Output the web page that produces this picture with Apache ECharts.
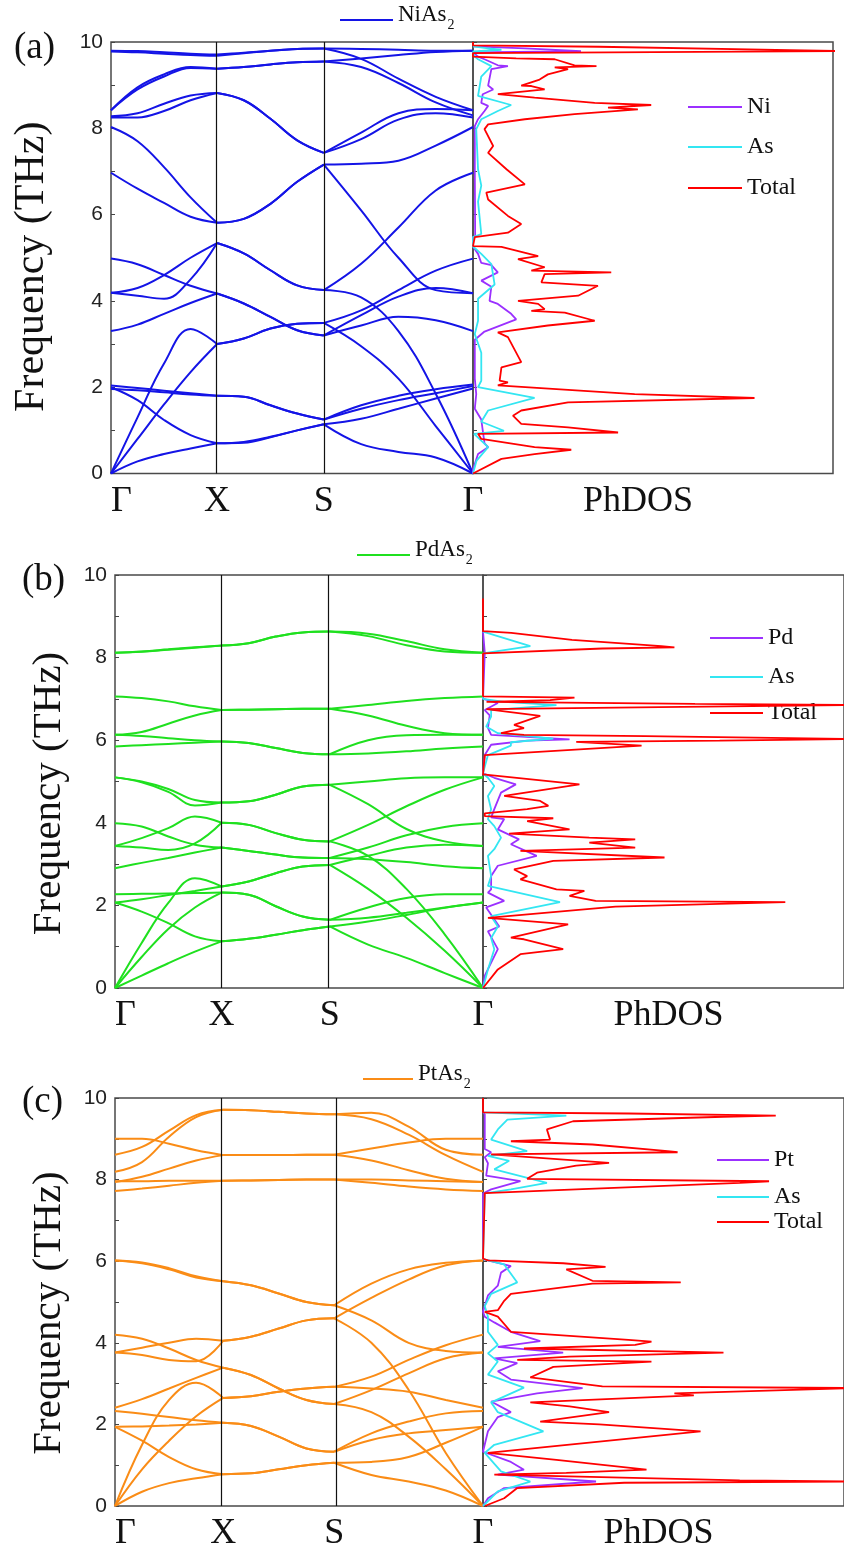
<!DOCTYPE html>
<html><head><meta charset="utf-8">
<script src="https://cdn.jsdelivr.net/npm/echarts@6/dist/echarts.min.js"></script>
<style>html,body{margin:0;padding:0;background:#fff}#c{width:844px;height:1557px}</style>
</head><body><div id="c"></div><script>
// ---------- DATA ----------
const kLabels = ['Γ', 'X', 'S', 'Γ'];

// k-path positions (Γ-X, X-S, S-Γ, quarter samples)
const kNi = [0, 0.0733, 0.1465, 0.2198, 0.293, 0.3668, 0.4405, 0.5143, 0.588, 0.691, 0.794, 0.897, 1];
const kPd = [0, 0.0724, 0.1448, 0.2172, 0.2896, 0.3631, 0.4367, 0.5102, 0.5837, 0.6878, 0.7919, 0.8959, 1];
const kPt = [0, 0.0735, 0.147, 0.2205, 0.294, 0.3694, 0.4448, 0.5201, 0.5955, 0.6966, 0.7978, 0.8989, 1];

// phonon branches (THz) at the k samples above
const bandsNi = [
  [0,0.28,0.45,0.58,0.7, 0.73,0.85,1.0,1.14, 0.68,0.5,0.37,0],
  [2.0,1.7,1.24,0.89,0.7, 0.71,0.84,1.0,1.14, 1.27,1.5,1.74,1.97],
  [2.04,1.98,1.92,1.86,1.8, 1.78,1.58,1.39,1.25, 1.5,1.7,1.86,2.03],
  [1.96,1.93,1.88,1.83,1.8, 1.78,1.58,1.39,1.25, 1.58,1.8,1.95,2.06],
  [0,0.8,1.6,2.35,3.0, 3.13,3.36,3.47,3.49, 2.95,2.2,1.1,0],
  [0,1.3,2.55,3.35,3.0, 3.13,3.36,3.47,3.49, 3.78,4.25,4.7,4.98],
  [3.3,3.45,3.7,3.95,4.17, 3.94,3.63,3.32,3.2, 3.43,3.63,3.55,3.3],
  [4.98,4.85,4.6,4.35,4.17, 3.94,3.63,3.32,3.2, 3.67,4.1,4.3,4.18],
  [4.19,4.12,4.05,4.5,5.34, 5.1,4.71,4.36,4.25, 4.86,5.7,6.56,6.97],
  [4.19,4.3,4.6,5.0,5.34, 5.1,4.71,4.36,4.25, 4.08,3.3,1.85,0],
  [6.97,6.6,6.27,5.95,5.81, 5.9,6.25,6.76,7.16, 6.1,5.0,4.25,4.18],
  [8.03,7.7,7.1,6.4,5.81, 5.9,6.25,6.76,7.16, 7.18,7.25,7.6,8.03],
  [8.28,8.35,8.57,8.76,8.82, 8.65,8.22,7.72,7.43, 7.9,8.35,8.45,8.42],
  [8.25,8.25,8.4,8.65,8.82, 8.65,8.22,7.72,7.43, 7.75,8.2,8.35,8.25],
  [8.42,8.95,9.25,9.42,9.38, 9.42,9.48,9.53,9.55, 9.42,9.05,8.6,8.3],
  [8.42,8.9,9.2,9.4,9.38, 9.42,9.48,9.53,9.55, 9.62,9.7,9.77,9.8],
  [9.8,9.79,9.76,9.73,9.71, 9.75,9.8,9.84,9.85, 9.61,9.15,8.73,8.42],
  [9.78,9.76,9.73,9.7,9.68, 9.74,9.8,9.84,9.85, 9.84,9.82,9.8,9.8]
];
const bandsPd = [
  [0,0.3,0.6,0.88,1.13, 1.19,1.29,1.4,1.49, 1.05,0.73,0.36,0],
  [2.07,1.85,1.57,1.25,1.13, 1.19,1.29,1.4,1.49, 1.61,1.77,1.94,2.07],
  [2.27,2.28,2.29,2.3,2.31, 2.26,1.98,1.73,1.65, 1.95,2.18,2.27,2.27],
  [0,0.75,1.43,1.95,2.31, 2.26,1.98,1.73,1.65, 1.7,1.82,1.95,2.07],
  [0,1.09,2.06,2.66,2.46, 2.58,2.78,2.94,2.98, 2.4,1.7,0.9,0],
  [2.07,2.15,2.25,2.35,2.46, 2.58,2.78,2.94,2.98, 3.2,3.4,3.47,3.44],
  [2.9,3.03,3.15,3.28,3.4, 3.32,3.23,3.16,3.15, 3.12,3.05,2.95,2.9],
  [3.99,3.91,3.67,3.47,3.4, 3.32,3.23,3.16,3.15, 3.4,3.7,3.9,3.99],
  [3.44,3.4,3.34,3.5,4.0, 3.95,3.75,3.59,3.55, 3.95,4.4,4.8,5.1],
  [3.44,3.63,3.87,4.15,4.0, 3.95,3.75,3.59,3.55, 3.2,2.4,1.3,0],
  [5.1,5.0,4.82,4.55,4.49, 4.52,4.68,4.88,4.92, 5.0,5.08,5.1,5.1],
  [5.1,4.98,4.75,4.42,4.49, 4.52,4.68,4.88,4.92, 4.45,3.85,3.55,3.44],
  [5.85,5.88,5.91,5.94,5.97, 5.93,5.81,5.69,5.66, 5.68,5.73,5.8,5.85],
  [6.13,6.1,6.05,6.0,5.97, 5.93,5.81,5.69,5.66, 6.0,6.12,6.13,6.13],
  [6.13,6.2,6.4,6.6,6.73, 6.74,6.75,6.76,6.76, 6.6,6.35,6.17,6.13],
  [7.06,7.02,6.94,6.82,6.73, 6.74,6.75,6.76,6.76, 6.85,6.95,7.02,7.06],
  [8.12,8.15,8.2,8.25,8.29, 8.35,8.51,8.61,8.63, 8.52,8.3,8.15,8.12],
  [8.12,8.14,8.19,8.24,8.29, 8.35,8.51,8.61,8.63, 8.58,8.4,8.2,8.12]
];
const bandsPt = [
  [0,0.35,0.56,0.68,0.78, 0.8,0.9,1.0,1.06, 0.76,0.6,0.38,0],
  [1.94,1.6,1.2,0.9,0.78, 0.8,0.9,1.0,1.06, 1.08,1.2,1.55,1.94],
  [1.94,1.95,1.97,2.0,2.04, 1.96,1.7,1.41,1.33, 1.62,1.78,1.86,1.94],
  [2.33,2.26,2.18,2.1,2.04, 1.96,1.7,1.41,1.33, 1.78,2.07,2.27,2.33],
  [0,1.5,2.6,3.02,2.65, 2.69,2.8,2.88,2.92, 3.17,3.58,3.94,4.2],
  [0,0.9,1.6,2.2,2.65, 2.69,2.8,2.88,2.92, 2.88,2.8,2.6,2.41],
  [4.2,4.1,3.86,3.58,3.39, 3.21,2.88,2.6,2.5, 2.3,1.7,0.9,0],
  [2.41,2.62,2.88,3.14,3.39, 3.21,2.88,2.6,2.5, 2.84,3.25,3.62,3.76],
  [3.76,3.7,3.58,3.55,4.05, 4.15,4.35,4.55,4.6, 4.0,2.85,1.3,0],
  [3.76,3.88,4.0,4.1,4.05, 4.15,4.35,4.55,4.6, 5.1,5.55,5.9,6.02],
  [6.02,5.95,5.8,5.6,5.51, 5.41,5.21,5.0,4.92, 5.45,5.8,5.96,6.02],
  [6.02,5.97,5.83,5.63,5.51, 5.41,5.21,5.0,4.92, 4.55,4.0,3.8,3.76],
  [7.72,7.78,7.85,7.92,7.97, 7.98,7.99,8.0,8.0, 7.92,7.83,7.76,7.72],
  [7.96,7.96,7.97,7.97,7.97, 7.98,7.99,8.0,8.0, 8.0,7.98,7.96,7.94],
  [7.94,8.07,8.27,8.47,8.6, 8.6,8.6,8.61,8.61, 8.47,8.23,8.02,7.94],
  [9.0,9.0,8.88,8.72,8.6, 8.6,8.6,8.61,8.61, 8.76,8.91,9.0,9.0],
  [8.19,8.43,9.05,9.53,9.71, 9.7,9.66,9.62,9.6, 9.64,9.3,8.73,8.61],
  [8.61,8.8,9.2,9.58,9.71, 9.7,9.66,9.62,9.6, 9.48,9.1,8.6,8.19]
];

// phonon DOS: [frequency (THz), DOS (arb. units)]
const niDosTotal = [[10,0],[9.92,0],[9.89,35],[9.81,88],[9.79,102],[9.76,102],[9.74,0],[9.66,0],[9.62,12],[9.6,22.7],[9.46,28.2],[9.44,34.3],[9.41,22.7],[9.37,26.4],[9.25,20.8],[9.13,18.5],[8.99,13.4],[8.98,16.2],[8.9,19.9],[8.79,6.9],[8.75,6.5],[8.71,17.1],[8.59,33.8],[8.54,49.5],[8.48,37.5],[8.44,45.8],[8.33,28.2],[8.21,14.4],[8.09,4.2],[7.98,3.2],[7.59,5.6],[7.43,4.2],[7.05,9.3],[6.7,14.4],[6.51,3.7],[6.35,4.2],[5.97,9.7],[5.78,13.4],[5.58,9.7],[5.48,0.5],[5.46,0],[5.27,0],[5.25,7.9],[5.04,18.1],[4.97,12.5],[4.78,19.9],[4.7,16.2],[4.66,38.4],[4.62,19.9],[4.43,19.0],[4.35,34.7],[4.12,29.2],[4.0,12.5],[3.93,18.1],[3.81,19.9],[3.77,16.2],[3.73,25.5],[3.54,33.8],[3.43,20.8],[3.27,6.9],[3.16,9.7],[2.58,13.4],[2.46,7.9],[2.15,7.4],[2.11,9.7],[2.04,6.9],[1.84,44.9],[1.75,78.2],[1.65,26.4],[1.46,13.4],[1.34,11.1],[1.15,13.4],[1.07,26.4],[0.95,40.3],[0.92,1.4],[0.8,2.3],[0.61,17.1],[0.55,27.3],[0.45,17.1],[0.34,7.9],[0,0]];
const niDosNi = [[9.9,0],[9.85,14.4],[9.79,30],[9.76,0],[9.66,1.4],[9.6,3.2],[9.46,6.9],[9.44,9.7],[9.37,5.1],[8.99,4.2],[8.9,5.6],[8.79,2.7],[8.59,2.3],[8.52,4.2],[8.4,3.2],[8.21,1.4],[8.05,0.5],[7.0,0.5],[5.5,0.6],[5.48,0],[5.26,0],[5.09,1.4],[4.88,2.3],[4.83,5.1],[4.66,6.9],[4.47,2.3],[4.33,5.1],[4.0,4.6],[3.93,6.9],[3.7,10.6],[3.57,12.0],[3.29,3.2],[3.1,0.5],[2.2,0.5],[1.84,0.9],[1.5,0.5],[1.25,2.3],[0.7,3.2],[0.61,4.2],[0.45,1.4],[0.1,0],[0,0]];
const niDosAs = [[9.9,0],[9.86,3.7],[9.82,7.9],[9.78,0],[9.66,0.5],[9.6,1.4],[9.44,5.1],[9.2,2.3],[8.75,1.4],[8.54,10.6],[8.4,6.9],[8.21,2.3],[7.98,0.9],[7.05,1.4],[6.67,2.3],[6.3,1.4],[5.55,2.3],[5.48,0],[5.26,0],[5.09,2.3],[4.85,5.1],[4.38,6.0],[4.05,1.4],[3.54,1.4],[3.23,0.5],[2.8,2.3],[2.15,2.3],[2.0,1.4],[1.75,17.1],[1.46,4.2],[1.2,2.3],[0.99,8.6],[0.92,0.3],[0.61,4.2],[0.3,1.0],[0,0]];

const pdDosTotal = [[9.43,0],[8.64,0],[8.6,8],[8.43,25.2],[8.28,50.5],[8.25,54.2],[8.22,33.8],[8.1,0],[7.06,0],[7.03,25.9],[6.97,19.0],[6.93,1],[6.88,60],[6.85,105],[6.8,50],[6.75,1],[6.73,1.4],[6.59,16.2],[6.37,8.8],[6.29,11.6],[6.17,5.1],[6.13,11.6],[6.1,46],[6.03,105],[5.99,67],[5.96,26.4],[5.87,44.9],[5.64,0.5],[5.62,0],[5.17,0],[5.13,0.5],[4.93,27.3],[4.65,6.0],[4.53,16.2],[4.41,18.5],[4.33,12.5],[4.23,0.5],[4.16,0.5],[4.11,19.9],[4.04,12.5],[3.84,24.5],[3.74,7.4],[3.64,30.1],[3.6,43.1],[3.52,30.1],[3.4,43.1],[3.32,10.6],[3.16,51.4],[3.08,19.9],[2.87,8.8],[2.71,12.5],[2.63,10.6],[2.39,20.8],[2.35,28.7],[2.23,24.5],[2.11,31.9],[2.08,85.6],[1.97,37.5],[1.7,1.4],[1.54,24.1],[1.22,7.9],[1.18,11.6],[0.94,22.7],[0.82,10.6],[0.45,4.2],[0,0]];
const pdDosPd = [[8.63,0],[8.6,0.5],[8.12,0.5],[8.1,0],[7.0,0],[6.97,1.4],[6.9,4.2],[6.73,0.5],[6.6,1.9],[6.3,1.4],[6.13,2.3],[6.02,24.5],[5.99,12.5],[5.89,2.3],[5.64,0.5],[5.2,0],[5.09,3.2],[4.93,9.3],[4.73,5.1],[4.33,3.2],[4.13,2.3],[4.09,6.0],[3.84,4.2],[3.6,10.2],[3.48,7.9],[3.2,15.2],[2.96,4.2],[2.71,2.3],[2.39,2.3],[2.31,1.4],[2.11,6.0],[1.95,0.9],[1.49,4.6],[1.37,1.4],[0.94,4.2],[0.3,0.5],[0,0]];
const pdDosAs = [[8.63,0],[8.28,13.4],[8.1,0],[7.0,0],[6.93,6.0],[6.85,20.8],[6.73,2.3],[6.57,2.3],[6.33,0.9],[6.17,4.2],[6.04,19.9],[5.95,7.9],[5.87,7.9],[5.64,1.4],[5.2,0],[5.09,1.4],[4.89,3.2],[4.65,1.4],[4.33,2.3],[4.09,1.4],[3.92,3.2],[3.64,5.1],[3.36,3.2],[3.2,1.4],[2.71,2.3],[2.47,1.4],[2.08,21.8],[1.74,2.3],[1.49,4.2],[1.21,2.3],[0.94,3.2],[0.45,1.4],[0,0]];

const ptDosTotal = [[10,0],[9.65,0],[9.62,41.2],[9.57,82.9],[9.54,68.1],[9.43,25.5],[9.23,18.1],[8.98,19.0],[8.94,7.9],[8.86,31],[8.7,52.3],[8.67,55.1],[8.62,2.3],[8.58,2.3],[8.41,35.7],[8.34,26.4],[8.17,15.3],[8.02,12.5],[7.96,81],[7.92,72.7],[7.76,26.4],[7.67,0.5],[7.66,0],[6.06,0],[6.02,1.4],[5.95,22.7],[5.86,34.7],[5.8,23.6],[5.52,31],[5.48,56],[5.45,31],[5.2,7.9],[5.03,6.0],[4.8,4.2],[4.76,0.5],[4.64,4.2],[4.27,7.9],[4.07,41.2],[4.03,47.7],[3.95,43.1],[3.86,11.6],[3.76,68.1],[3.66,24.5],[3.58,9.7],[3.54,47.7],[3.41,19.9],[3.15,13.4],[2.93,33.8],[2.89,105],[2.76,54.2],[2.71,59.7],[2.54,13.4],[2.44,24.5],[2.3,35.7],[2.07,16.2],[2.0,32.9],[1.83,61.6],[1.3,1.4],[1.13,20.8],[0.89,46.3],[0.81,23.6],[0.77,3.2],[0.63,72.7],[0.6,105],[0.57,40],[0.44,9.7],[0.19,6.0],[0,0.5]];
const ptDosPt = [[9.65,0],[9.6,0.5],[8.75,0.5],[8.67,2.3],[8.55,0.5],[8.4,1.4],[8.1,0.9],[7.96,10.6],[7.76,2.3],[7.66,0],[6.05,0],[5.88,7.9],[5.72,5.1],[5.4,4.2],[5.16,1.4],[4.76,0],[4.64,0.5],[4.5,3.2],[4.27,7.9],[4.04,16.2],[3.9,4.2],[3.76,22.7],[3.62,3.2],[3.5,9.7],[3.3,4.2],[3.1,7.9],[2.89,28.2],[2.76,15.3],[2.56,2.3],[2.3,7.9],[2.18,4.2],[1.83,1.4],[1.33,0],[1.08,7.9],[0.89,11.6],[0.77,4.2],[0.6,32],[0.44,6.0],[0.19,1.4],[0,0]];
const ptDosAs = [[9.65,0],[9.57,23.6],[9.47,6.9],[9.23,4.2],[8.98,2.3],[8.7,12.5],[8.58,1.4],[8.46,7.4],[8.25,3.2],[7.92,18.1],[7.76,7.9],[7.66,0.5],[6.05,0],[5.92,6.0],[5.48,9.7],[5.2,2.3],[4.9,0.5],[4.64,1.4],[4.27,1.4],[3.95,4.2],[3.74,1.4],[3.54,4.2],[3.22,1.4],[2.9,11.6],[2.54,2.3],[2.3,4.2],[1.83,17.1],[1.5,3.2],[1.3,0.5],[0.85,5.1],[0.6,13.4],[0.36,4.2],[0,0]];

// ---------- LAYOUT / STYLE ----------
const SERIF = 'Liberation Serif, Times New Roman, serif';
const SANS = 'Liberation Sans, Arial, sans-serif';
const C_METAL = '#9b30ff', C_AS = '#33e6f2', C_TOT = '#ff0000';

const panels = [
  { tag:'(a)', tagX:14, tagY:30, compound:['NiAs','2'], metal:'Ni', color:'#1414e6', k:kNi, bands:bandsNi,
    dos:[niDosNi, niDosAs, niDosTotal],
    band:{left:111, top:42, width:362, height:431.5}, dosG:{left:473, top:42, width:360, height:431.5},
    yNameSize:42, yNameGap:58, yNamePad:[0,18,0,0], phPad:[0,30,0,0],
    legBand:{x:340, y:18, w:53}, legDos:{x:688, w:54, ys:[107,147,188]} },
  { tag:'(b)', tagX:22, tagY:562, compound:['PdAs','2'], metal:'Pd', color:'#1fe01f', k:kPd, bands:bandsPd,
    dos:[pdDosPd, pdDosAs, pdDosTotal],
    band:{left:115, top:575, width:368, height:413}, dosG:{left:483, top:575, width:368, height:413},
    yNameSize:41, yNameGap:45, yNamePad:[0,24,0,0], phPad:[0,0,0,10],
    legBand:{x:357, y:553, w:53}, legDos:{x:710, w:53, ys:[638,677,713]} },
  { tag:'(c)', tagX:22, tagY:1084, compound:['PtAs','2'], metal:'Pt', color:'#fa8c16', k:kPt, bands:bandsPt,
    dos:[ptDosPt, ptDosAs, ptDosTotal],
    band:{left:115, top:1098, width:368, height:408}, dosG:{left:483, top:1098, width:368, height:408},
    yNameSize:41, yNameGap:45, yNamePad:[0,22,0,0], phPad:[0,10,0,0],
    legBand:{x:363, y:1077, w:50}, legDos:{x:717, w:52, ys:[1160,1197,1222]} }
];

const grid = [], xAxis = [], yAxis = [], series = [], legend = [], graphic = [];
const segs = [[0, 5], [4, 9], [8, 13]];

panels.forEach((p, pi) => {
  const gb = pi * 2, gd = pi * 2 + 1;
  grid.push(Object.assign({show:true, borderColor:'#4a4a4a', borderWidth:1.5, containLabel:false}, p.band));
  grid.push(Object.assign({show:true, borderColor:'#4a4a4a', borderWidth:1.5, containLabel:false}, p.dosG));
  const kSym = [p.k[0], p.k[4], p.k[8], p.k[12]];
  const dosMax = p.dosG.width / 3.6;
  xAxis.push({gridIndex:gb, type:'value', min:0, max:1, axisLine:{show:false}, axisTick:{show:false},
    splitLine:{show:false},
    axisLabel:{customValues:kSym, formatter:(v)=>{const i=kSym.findIndex(t=>Math.abs(t-v)<1e-6);return i>=0?kLabels[i]:'';},
      fontFamily:SERIF, fontSize:36, color:'#111', margin:10, alignMinLabel:'left'}});
  xAxis.push({gridIndex:gd, type:'value', min:0, max:dosMax, axisLine:{show:false}, axisTick:{show:false},
    axisLabel:{show:false}, splitLine:{show:false},
    name:'PhDOS', nameLocation:'middle', nameGap:10,
    nameTextStyle:{fontFamily:SERIF, fontSize:36, color:'#111', padding:p.phPad, verticalAlign:'top'}});
  yAxis.push({gridIndex:gb, type:'value', min:0, max:10, interval:2, axisLine:{show:false},
    axisTick:{show:true, inside:true, length:4, lineStyle:{color:'#444'}},
    minorTick:{show:true, splitNumber:2, length:4, lineStyle:{color:'#444'}},
    splitLine:{show:false},
    axisLabel:{fontFamily:SANS, fontSize:21, color:'#222', margin:8},
    name:'Frequency (THz)', nameLocation:'middle', nameGap:p.yNameGap,
    nameTextStyle:{fontFamily:SERIF, fontSize:p.yNameSize, color:'#111', padding:p.yNamePad}});
  yAxis.push({gridIndex:gd, type:'value', min:0, max:10, interval:2, axisLine:{show:false},
    axisTick:{show:true, inside:true, length:4, lineStyle:{color:'#444'}},
    minorTick:{show:true, splitNumber:2, length:4, lineStyle:{color:'#444'}},
    splitLine:{show:false}, axisLabel:{show:false}});

  const bname = p.compound.join('');
  p.bands.forEach((b, bi) => {
    segs.forEach((sg, si) => {
      const pts = [];
      for (let i = sg[0]; i < sg[1]; i++) pts.push([p.k[i], b[i]]);
      const s = {type:'line', name:bname, xAxisIndex:gb, yAxisIndex:gb, smooth:0.4, symbol:'none',
        data:pts, lineStyle:{color:p.color, width:2}, itemStyle:{color:p.color}, z:3, silent:true};
      if (bi === 0 && si === 0) {
        s.markLine = {silent:true, symbol:'none', label:{show:false}, animation:false,
          lineStyle:{color:'#111', width:1.2, type:'solid'},
          data:[{xAxis:p.k[4]}, {xAxis:p.k[8]}]};
      }
      series.push(s);
    });
  });
  const dnames = [p.metal, 'As', 'Total'], dcols = [C_METAL, C_AS, C_TOT];
  p.dos.forEach((arr, di) => {
    series.push({type:'line', name:dnames[di], xAxisIndex:gd, yAxisIndex:gd, symbol:'none', smooth:false,
      data:arr.map(q => [q[1], q[0]]), lineStyle:{color:dcols[di], width:1.8}, itemStyle:{color:dcols[di]},
      z:4 + di, silent:true});
  });

  legend.push({data:[bname], left:p.legBand.x, top:p.legBand.y - 15, padding:0, icon:'rect',
    itemWidth:p.legBand.w, itemHeight:2, selectedMode:false, itemStyle:{color:p.color},
    formatter:() => '{t|' + p.compound[0] + '}{s|' + p.compound[1] + '}',
    textStyle:{color:'#111', rich:{t:{fontFamily:SERIF, fontSize:23, lineHeight:24, verticalAlign:'bottom', padding:[0,0,6,0]},
      s:{fontFamily:SERIF, fontSize:14, lineHeight:16, verticalAlign:'bottom', padding:[0,0,0,1]}}}});
  dnames.forEach((n, di) => {
    legend.push({data:[n], left:p.legDos.x, top:p.legDos.ys[di] - 12, padding:0, icon:'rect',
      itemWidth:p.legDos.w, itemHeight:2, selectedMode:false, itemStyle:{color:dcols[di]},
      textStyle:{fontFamily:SERIF, fontSize:24, lineHeight:24, color:'#111'}});
  });
  graphic.push({type:'text', left:p.tagX, top:p.tagY, style:{text:p.tag, font:'37px ' + SERIF, fill:'#111'}});
});

const chart = echarts.init(document.getElementById('c'), null, {renderer:'canvas'});
chart.setOption({animation:false, backgroundColor:'#fff', grid, xAxis, yAxis, series, legend, graphic});
</script></body></html>
